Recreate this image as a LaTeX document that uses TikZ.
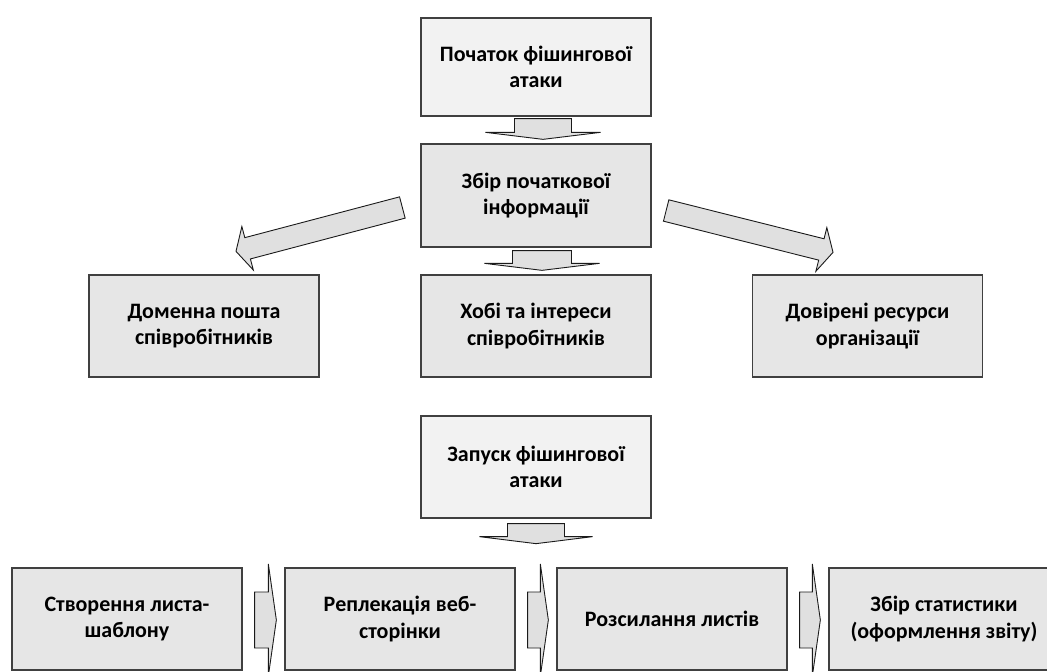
\documentclass[tikz,border=0pt]{standalone}
\usepackage{fontspec}
\setmainfont{Carlito}
\usetikzlibrary{calc}
\definecolor{boxfill}{HTML}{E6E6E6}
\definecolor{boxfilllight}{HTML}{F2F2F2}
\definecolor{boxline}{HTML}{404040}
\definecolor{arrfill}{HTML}{E0E0E0}
\definecolor{arrline}{HTML}{1A1A1A}
\newcommand\blockarr[5]{% tail, tip, shaft half width, head half width, head length
  \coordinate (ba-t) at #1;
  \coordinate (ba-p) at #2;
  \coordinate (ba-h) at ($(ba-p)!#5!(ba-t)$);
  \draw[blockarrow] ($(ba-t)!#3!90:(ba-p)$) -- ($(ba-h)!#3!90:(ba-p)$) --
    ($(ba-h)!#4!90:(ba-p)$) -- (ba-p) -- ($(ba-h)!#4!-90:(ba-p)$) --
    ($(ba-h)!#3!-90:(ba-p)$) -- ($(ba-t)!#3!-90:(ba-p)$) -- cycle;
}
\tikzset{
  box/.style={draw=boxline, line width=1.3pt, fill=boxfill, minimum width=230pt,
    minimum height=102pt, align=center, inner sep=0pt,
    font=\bfseries\fontsize{22}{26.5}\selectfont},
  lightbox/.style={box, fill=boxfilllight},
  blockarrow/.style={draw=arrline, fill=arrfill, line width=0.9pt, line join=miter}
}
\begin{document}
\begin{tikzpicture}[x=1pt,y=-1pt]
\useasboundingbox (0,0) rectangle (1047,672);
\node[lightbox, minimum height=98pt] (n1) at (536,67) {Початок фішингової\\атаки};
\node[box, minimum height=103pt] (n2) at (536,195.5) {Збір початкової\\інформації};
\node[box] (d1) at (204,326) {Доменна пошта\\співробітників};
\node[box] (d2) at (536,326) {Хобі та інтереси\\співробітників};
\node[box] (d3) at (867.5,326) {Довірені ресурси\\організації};
\node[lightbox] (z) at (536,467) {Запуск фішингової\\атаки};
\node[box] (b1) at (127,619) {Створення листа-\\шаблону};
\node[box] (b2) at (400,619) {Реплекація веб-\\сторінки};
\node[box] (b3) at (672,619) {Розсилання листів};
\node[box] (b4) at (944,619) {Збір статистики\\(оформлення звіту)};
\blockarr{($(n1.south)+(7,2)$)}{($(n2.north)+(7,-4)$)}{28.5pt}{57.5pt}{7pt}
\blockarr{($(n2.south)+(6,3)$)}{($(d2.north)+(6,-4)$)}{29.5pt}{57.5pt}{7pt}
\blockarr{($(n2.west)+(-18,12)$)}{($(d1.north)+(32,-23)$)}{11pt}{22.5pt}{12pt}
\blockarr{($(n2.east)+(14.5,15)$)}{($(d3.north)+(-34.5,-22)$)}{11pt}{22.5pt}{12pt}
\blockarr{($(z.south)+(0,5)$)}{($(z.south)+(0,25)$)}{28.5pt}{56.5pt}{7pt}
\blockarr{($(b1.east)+(12,1)$)}{($(b2.west)+(-8,1)$)}{28pt}{56pt}{8pt}
\blockarr{($(b2.east)+(12,1)$)}{($(b3.west)+(-8,1)$)}{28pt}{56pt}{8pt}
\blockarr{($(b3.east)+(12,1)$)}{($(b4.west)+(-8,1)$)}{28pt}{56pt}{8pt}
\end{tikzpicture}
\end{document}
